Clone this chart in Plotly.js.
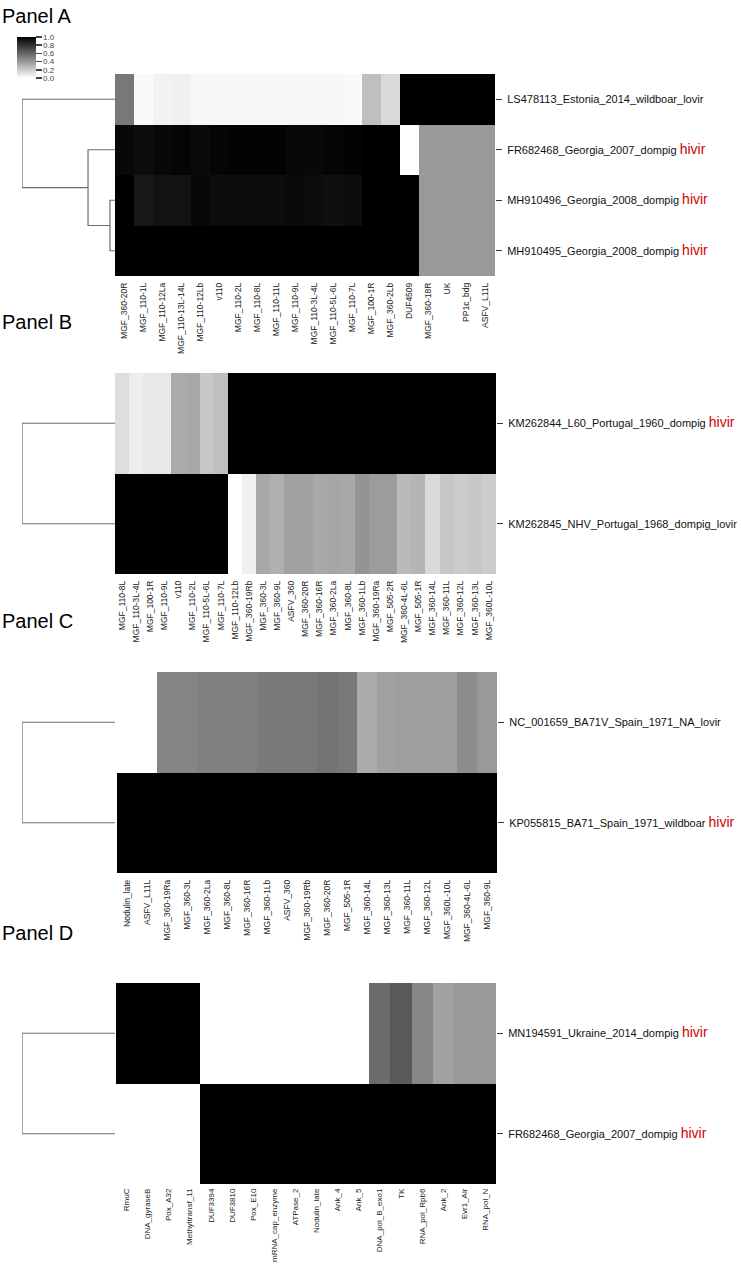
<!DOCTYPE html>
<html><head><meta charset="utf-8">
<script src="https://cdn.plot.ly/plotly-3.0.1.min.js"></script>
<style>body{margin:0;background:#fff}#chart{width:741px;height:1264px}</style>
</head><body><div id="chart"></div>
<script>
// ---------------- DATA ----------------
const colsA = ["MGF_360-20R","MGF_110-1L","MGF_110-12La","MGF_110-13L-14L","MGF_110-12Lb","v110","MGF_110-2L","MGF_110-8L","MGF_110-11L","MGF_110-9L","MGF_110-3L-4L","MGF_110-5L-6L","MGF_110-7L","MGF_100-1R","MGF_360-2Lb","DUF4509","MGF_360-18R","UK","PP1c_bdg","ASFV_L11L"];
const rowsA = ["LS478113_Estonia_2014_wildboar_lovir","FR682468_Georgia_2007_dompig","MH910496_Georgia_2008_dompig","MH910495_Georgia_2008_dompig"];
const virA = ["","hivir","hivir","hivir"];
const zA = [
  [0.53,0.02,0.05,0.06,0.03,0.03,0.03,0.03,0.03,0.03,0.03,0.03,0.02,0.25,0.15,1,1,1,1,1],
  [0.97,0.95,0.97,0.98,0.96,0.98,0.99,0.99,0.99,0.97,0.97,0.98,0.99,1,1,0,0.4,0.4,0.4,0.4],
  [1,0.91,0.93,0.93,0.97,0.95,0.95,0.95,0.95,0.96,0.95,0.94,0.95,1,1,1,0.4,0.4,0.4,0.4],
  [1,1,1,1,1,1,1,1,1,1,1,1,1,1,1,1,0.4,0.4,0.4,0.4]
];
const mergeA = [[2,3,0.054],[1,4,0.29],[0,5,1.0]];

const colsB = ["MGF_110-8L","MGF_110-3L-4L","MGF_100-1R","MGF_110-9L","v110","MGF_110-2L","MGF_110-5L-6L","MGF_110-7L","MGF_110-12Lb","MGF_360-19Rb","MGF_360-3L","MGF_360-9L","ASFV_360","MGF_360-20R","MGF_360-16R","MGF_360-2La","MGF_360-8L","MGF_360-1Lb","MGF_360-19Ra","MGF_505-2R","MGF_360-4L-6L","MGF_505-1R","MGF_360-14L","MGF_360-11L","MGF_360-12L","MGF_360-13L","MGF_360L-10L"];
const rowsB = ["KM262844_L60_Portugal_1960_dompig","KM262845_NHV_Portugal_1968_dompig_lovir"];
const virB = ["hivir",""];
const zB = [
  [0.13,0.07,0.09,0.09,0.33,0.34,0.22,0.25,1,1,1,1,1,1,1,1,1,1,1,1,1,1,1,1,1,1,1],
  [1,1,1,1,1,1,1,1,0,0.06,0.34,0.31,0.37,0.37,0.34,0.35,0.34,0.42,0.39,0.39,0.27,0.29,0.15,0.22,0.2,0.22,0.2]
];
const mergeB = [[0,1,1.0]];

const colsC = ["Nodulin_late","ASFV_L11L","MGF_360-19Ra","MGF_360-3L","MGF_360-2La","MGF_360-8L","MGF_360-16R","MGF_360-1Lb","ASFV_360","MGF_360-19Rb","MGF_360-20R","MGF_505-1R","MGF_360-14L","MGF_360-13L","MGF_360-11L","MGF_360-12L","MGF_360L-10L","MGF_360-4L-6L","MGF_360-9L"];
const rowsC = ["NC_001659_BA71V_Spain_1971_NA_lovir","KP055815_BA71_Spain_1971_wildboar"];
const virC = ["","hivir"];
const zC = [
  [0,0,0.48,0.48,0.5,0.5,0.5,0.52,0.52,0.53,0.55,0.53,0.33,0.37,0.38,0.38,0.38,0.45,0.4],
  [1,1,1,1,1,1,1,1,1,1,1,1,1,1,1,1,1,1,1]
];
const mergeC = [[0,1,1.0]];

const colsD = ["RmuC","DNA_gyraseB","Pox_A32","Methyltransf_11","DUF3394","DUF3810","Pox_E10","mRNA_cap_enzyme","ATPase_2","Nodulin_late","Ank_4","Ank_5","DNA_pol_B_exo1","TK","RNA_pol_Rpb6","Ank_2","Evr1_Alr","RNA_pol_N"];
const rowsD = ["MN194591_Ukraine_2014_dompig","FR682468_Georgia_2007_dompig"];
const virD = ["hivir","hivir"];
const zD = [
  [1,1,1,1,0,0,0,0,0,0,0,0,0.58,0.65,0.47,0.37,0.4,0.4],
  [0,0,0,0,1,1,1,1,1,1,1,1,1,1,1,1,1,1]
];
const mergeD = [[0,1,1.0]];

const panelTitles = ["Panel A","Panel B","Panel C","Panel D"];
const cbTicks = [0,0.2,0.4,0.6,0.8,1.0];

// ---------------- LAYOUT HELPERS ----------------
const W = 741, H = 1264;
const fx = p => p / W;
const fy = p => 1 - p / H;
const FONT = "Liberation Sans, Arial, Helvetica, sans-serif";

const panels = [
  {cols:colsA, rows:rowsA, vir:virA, z:zA, merge:mergeA, box:[115,495,74,276], titleY:16, tf:8.5, ts:4},
  {cols:colsB, rows:rowsB, vir:virB, z:zB, merge:mergeB, box:[115,496,373,574], titleY:322, tf:8.5, ts:4},
  {cols:colsC, rows:rowsC, vir:virC, z:zC, merge:mergeC, box:[117,497,672,873], titleY:621, tf:8.5, ts:4},
  {cols:colsD, rows:rowsD, vir:virD, z:zD, merge:mergeD, box:[116,496,983,1184], titleY:933, tf:8, ts:2}
];

function dendroLines(merge, nLeaves){
  const nodes = [];
  for (let i=0;i<nLeaves;i++) nodes.push({pos:i,h:0});
  const xs=[], ys=[];
  merge.forEach(m=>{
    const a=nodes[m[0]], b=nodes[m[1]], h=m[2];
    xs.push(a.h,h,h,b.h,null);
    ys.push(a.pos,a.pos,b.pos,b.pos,null);
    nodes.push({pos:(a.pos+b.pos)/2,h:h});
  });
  return {xs,ys};
}

const data = [];
const layout = {
  width: W, height: H,
  margin:{l:0,r:0,t:0,b:0},
  paper_bgcolor:"#fff", plot_bgcolor:"rgba(0,0,0,0)",
  showlegend:false, hovermode:false,
  font:{family:FONT, color:"#000"},
  annotations:[]
};

panels.forEach((p,i)=>{
  const k = i+1;
  const xa = k===1 ? "x" : "x"+k;
  const ya = k===1 ? "y" : "y"+k;
  const xd = "x"+(k+4);
  const [x0,x1,y0,y1] = p.box;
  const trace = {
    type:"heatmap",
    z:p.z,
    x:p.cols.map((_,j)=>j),
    y:p.rows.map((_,j)=>j),
    xaxis:xa, yaxis:ya,
    zmin:0, zmax:1,
    colorscale:[[0,"#ffffff"],[1,"#000000"]],
    showscale: k===1,
    hoverinfo:"skip"
  };
  if (k===1){
    trace.colorbar = {
      x:fx(17), xanchor:"left", xpad:0,
      y:fy(37), yanchor:"top", ypad:0,
      lenmode:"pixels", len:41, thickness:19,
      outlinewidth:0,
      ticks:"outside", ticklen:6, tickwidth:1.5, tickcolor:"#444",
      tickvals:cbTicks, ticktext:cbTicks.map(v=>v.toFixed(1)),
      tickfont:{size:8, color:"#444", family:FONT}
    };
  }
  data.push(trace);

  const dl = dendroLines(p.merge, p.rows.length);
  data.push({
    type:"scatter", mode:"lines", x:dl.xs, y:dl.ys,
    xaxis:xd, yaxis:ya,
    line:{color:"#6e6e6e", width:1.2},
    hoverinfo:"skip", cliponaxis:false
  });

  const xkey = k===1 ? "xaxis" : "xaxis"+k;
  const ykey = k===1 ? "yaxis" : "yaxis"+k;
  layout[xkey] = {
    domain:[fx(x0),fx(x1)], anchor:ya,
    range:[-0.5, p.cols.length-0.5],
    tickmode:"array", tickvals:p.cols.map((_,j)=>j), ticktext:p.cols,
    tickangle:-90, ticks:"", ticklabelstandoff:p.ts,
    tickfont:{size:p.tf, color:"#222", family:FONT},
    showgrid:false, zeroline:false, showline:false, fixedrange:true
  };
  layout[ykey] = {
    domain:[fy(y1),fy(y0)], anchor:xa, side:"right",
    range:[p.rows.length-0.5, -0.5],
    tickmode:"array", tickvals:p.rows.map((_,j)=>j),
    ticktext:p.rows.map((r,j)=> p.vir[j] ? r+' <span style="color:#d20000;font-size:14px">'+p.vir[j]+'</span>' : r),
    ticks:"outside", ticklen:6, tickwidth:1, tickcolor:"#333", ticklabelstandoff:3,
    tickfont:{size:11, color:"#111", family:FONT},
    showgrid:false, zeroline:false, showline:false, fixedrange:true
  };
  layout["xaxis"+(k+4)] = {
    domain:[fx(22),fx(115)], anchor:ya, range:[1,0],
    visible:false, showgrid:false, zeroline:false, fixedrange:true
  };
  layout.annotations.push({
    xref:"paper", yref:"paper", x:0, y:fy(p.titleY),
    xanchor:"left", yanchor:"middle", showarrow:false,
    text:panelTitles[i], font:{size:20, color:"#000", family:FONT}
  });
});

Plotly.newPlot("chart", data, layout, {displayModeBar:false, staticPlot:true});
</script>
</body></html>
